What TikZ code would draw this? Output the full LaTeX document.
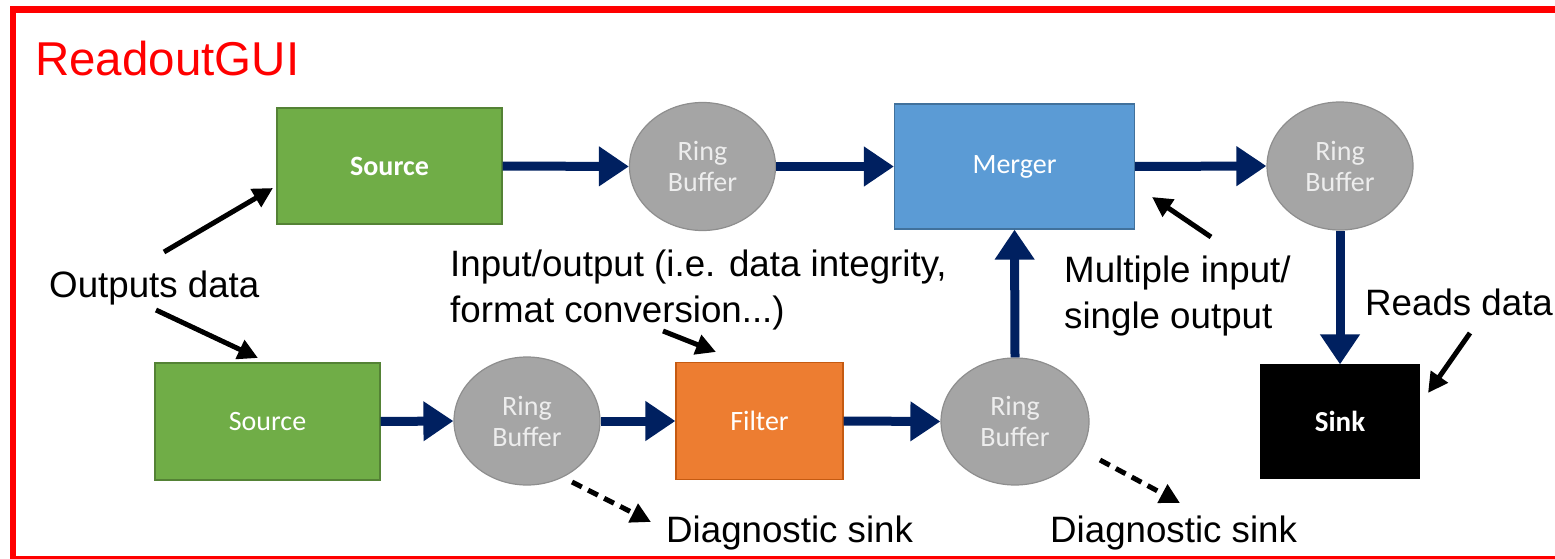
\documentclass[tikz,border=0pt]{standalone}
\usepackage{fontspec}
\setmainfont{Liberation Sans}
\newfontfamily\boxfont{Carlito}
\usetikzlibrary{arrows.meta,shapes.geometric}

\definecolor{srcgreen}{HTML}{70AD47}
\definecolor{srcgreenline}{HTML}{548235}
\definecolor{mergeblue}{HTML}{5B9BD5}
\definecolor{mergeblueline}{HTML}{41719C}
\definecolor{filterorange}{HTML}{ED7D31}
\definecolor{filterorangeline}{HTML}{C55A11}
\definecolor{ringgray}{HTML}{A5A5A5}
\definecolor{ringgrayline}{HTML}{8E8E8E}
\definecolor{ringtext}{HTML}{EDEDED}
\definecolor{flownavy}{HTML}{002060}
\definecolor{framered}{HTML}{FF0000}

\tikzset{
  stagebox/.style={draw, line width=1.2pt, inner sep=0pt, text=white,
    font=\boxfont\fontsize{28}{32}\selectfont},
  ringbuf/.style={ellipse, draw=ringgrayline, line width=1.2pt, fill=ringgray,
    minimum width=146pt, minimum height=128pt, inner sep=0pt, align=center,
    text=ringtext, font=\boxfont\fontsize{28}{31}\selectfont},
  flow/.style={draw=flownavy, line width=9pt,
    -{Triangle[length=30pt,width=38pt]}},
  note/.style={anchor=base west, inner sep=0pt,
    font=\fontsize{36.7}{46}\selectfont},
  pointer/.style={draw=black, line width=5pt,
    -{Triangle[length=20pt,width=20pt]}},
  diagpointer/.style={pointer, dash pattern=on 11pt off 7pt},
}

\begin{document}
\begin{tikzpicture}[x=1pt,y=-1pt]
\useasboundingbox (0,0) rectangle (1555,559);

% outer frame
\draw[framered, line width=6.5pt] (13,9.5) rectangle (1600,559);
\node[anchor=base west, inner sep=0pt, text=framered,
  font=\fontsize{47.5}{50}\selectfont] (title) at (35,76) {ReadoutGUI};

% top chain
\node[stagebox, fill=srcgreen, draw=srcgreenline,
  minimum width=225pt, minimum height=116pt,
  font=\boxfont\bfseries\fontsize{28}{32}\selectfont] (src1) at (389.5,166) {Source};
\node[ringbuf] (rb1) at (702.5,166.5) {Ring\\Buffer};
\node[stagebox, fill=mergeblue, draw=mergeblueline,
  minimum width=240pt, minimum height=125pt] (merger) at (1014.5,166.5) {Merger};
\node[ringbuf] (rb3) at (1340,166) {Ring\\Buffer};
\node[stagebox, fill=black, draw=black,
  minimum width=158pt, minimum height=113pt,
  font=\boxfont\bfseries\fontsize{29}{32}\selectfont] (sink) at (1340,421.5) {Sink};

% bottom chain
\node[stagebox, fill=srcgreen, draw=srcgreenline,
  minimum width=225pt, minimum height=117pt] (src2) at (267.5,421.5) {Source};
\node[ringbuf] (rb2) at (527,421) {Ring\\Buffer};
\node[stagebox, fill=filterorange, draw=filterorangeline,
  minimum width=167pt, minimum height=117pt] (filter) at (759.5,421) {Filter};
\node[ringbuf, minimum width=148pt, minimum height=127pt] (rb4) at (1015,421.5) {Ring\\Buffer};

% data flow
\draw[flow] (src1.east) -- (rb1.west);
\draw[flow] (rb1.east) -- (merger.west);
\draw[flow] (merger.east) -- (rb3.west);
\draw[flow] (rb3.south) -- (sink.north);
\draw[flow] (src2.east) -- (rb2.west);
\draw[flow] (rb2.east) -- (filter.west);
\draw[flow] (filter.east) -- (rb4.west);
\draw[flow] (rb4.north) -- (merger.south);

% annotations
\node[note] (outputs) at (49,297) {Outputs data};
\node[note] (io1) at (450,276) {Input/output (i.e. data integrity,};
\node[note] (io2) at (450,322) {format conversion...)};
\node[note] (multi1) at (1064,282) {Multiple input/};
\node[note] (multi2) at (1064,328) {single output};
\node[note] (reads) at (1365,315) {Reads data};
\node[note] (diag1) at (666,542) {Diagnostic sink};
\node[note] (diag2) at (1050,542) {Diagnostic sink};

\coordinate (outA) at (164,252);   \coordinate (outAtip) at (273,188);
\coordinate (outB) at (156,310);   \coordinate (outBtip) at (258,358);
\coordinate (ioA) at (663,331);    \coordinate (ioAtip) at (716,352);
\coordinate (mulA) at (1211,237);  \coordinate (mulAtip) at (1152,197);
\coordinate (rdA) at (1470,333);   \coordinate (rdAtip) at (1428,393);
\coordinate (dgA) at (572,482);    \coordinate (dgAtip) at (651,522);
\coordinate (dgB) at (1100,460);   \coordinate (dgBtip) at (1180,503);

\draw[pointer] (outA) -- (outAtip);
\draw[pointer] (outB) -- (outBtip);
\draw[pointer] (ioA) -- (ioAtip);
\draw[pointer] (mulA) -- (mulAtip);
\draw[pointer] (rdA) -- (rdAtip);
\draw[diagpointer] (dgA) -- (dgAtip);
\draw[diagpointer] (dgB) -- (dgBtip);
\end{tikzpicture}
\end{document}
